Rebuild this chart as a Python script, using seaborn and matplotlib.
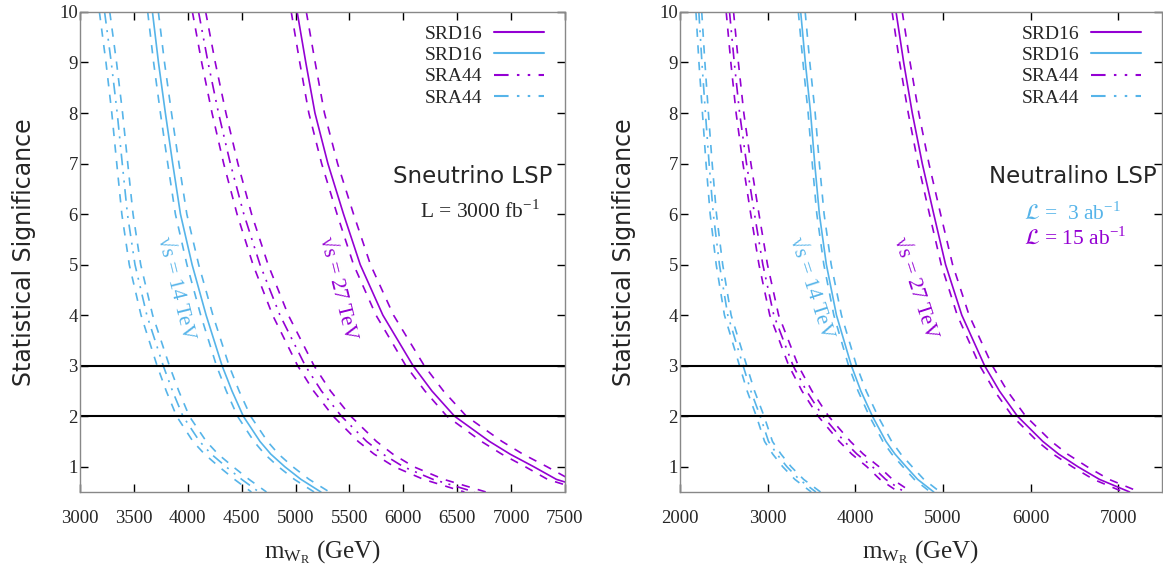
import matplotlib
matplotlib.use("Agg")
import matplotlib.pyplot as plt
from matplotlib.lines import Line2D
import seaborn as sns

sig = [10, 9, 8, 7, 6, 5, 4, 3, 2.5, 2, 1.5, 1.25, 1, 0.75, 0.5]

# --- Sneutrino LSP, L = 3000 fb^-1 (m_WR in GeV) ---
sn_srd16_27 = [5015, 5095, 5180, 5300, 5445, 5600, 5810, 6090, 6265, 6475, 6800, 6990, 7210, 7420, 7800]
sn_srd16_27_lo = [4960, 5039, 5123, 5242, 5385, 5538, 5746, 6023, 6200, 6404, 6725, 6913, 7131, 7338, 7714]
sn_srd16_27_hi = [5100, 5182, 5268, 5390, 5538, 5695, 5909, 6194, 6372, 6585, 6916, 7109, 7333, 7546, 7933]

sn_sra44_27 = [4100, 4188, 4285, 4395, 4520, 4670, 4855, 5090, 5240, 5425, 5660, 5810, 6000, 6275, 6660]
sn_sra44_27_lo = [4043, 4129, 4225, 4333, 4457, 4605, 4787, 5019, 5167, 5349, 5581, 5729, 5916, 6187, 6567]
sn_sra44_27_hi = [4166, 4255, 4354, 4465, 4592, 4745, 4933, 5171, 5324, 5512, 5751, 5903, 6096, 6375, 6767]

sn_srd16_14 = [3672, 3728, 3792, 3860, 3932, 4040, 4170, 4318, 4410, 4515, 4670, 4770, 4900, 5050, 5235]
sn_srd16_14_lo = [3628, 3683, 3746, 3814, 3885, 3992, 4120, 4266, 4357, 4461, 4614, 4713, 4841, 4989, 5172]
sn_srd16_14_hi = [3727, 3784, 3849, 3918, 3991, 4101, 4233, 4383, 4476, 4583, 4740, 4842, 4974, 5126, 5314]

sn_sra44_14 = [3228, 3290, 3345, 3392, 3440, 3510, 3620, 3772, 3858, 3955, 4110, 4218, 4355, 4500, 4660]
sn_sra44_14_lo = [3180, 3241, 3295, 3341, 3388, 3457, 3566, 3715, 3800, 3896, 4048, 4155, 4290, 4433, 4590]
sn_sra44_14_hi = [3276, 3339, 3395, 3443, 3492, 3563, 3674, 3829, 3916, 4014, 4172, 4281, 4420, 4568, 4730]

# --- Neutralino LSP, L = 3 ab^-1 (14 TeV) / 15 ab^-1 (27 TeV) ---
ne_srd16_27 = [4465, 4552, 4650, 4764, 4895, 5030, 5215, 5475, 5644, 5850, 6140, 6320, 6540, 6785, 7130]
ne_srd16_27_lo = [4420, 4506, 4604, 4716, 4846, 4980, 5163, 5420, 5588, 5792, 6079, 6257, 6475, 6717, 7059]
ne_srd16_27_hi = [4536, 4625, 4724, 4840, 4973, 5110, 5298, 5563, 5734, 5944, 6238, 6421, 6645, 6894, 7244]

ne_sra44_27 = [2565, 2619, 2680, 2759, 2850, 2945, 3070, 3290, 3443, 3630, 3875, 4019, 4195, 4346, 4560]
ne_sra44_27_lo = [2527, 2580, 2640, 2718, 2807, 2901, 3024, 3241, 3391, 3576, 3817, 3959, 4132, 4281, 4492]
ne_sra44_27_hi = [2611, 2666, 2728, 2809, 2901, 2998, 3125, 3349, 3505, 3695, 3945, 4091, 4271, 4424, 4642]

ne_srd16_14 = [3377, 3430, 3490, 3537, 3590, 3670, 3785, 3955, 4063, 4195, 4350, 4453, 4580, 4711, 4895]
ne_srd16_14_lo = [3350, 3403, 3462, 3509, 3561, 3641, 3755, 3923, 4031, 4161, 4315, 4417, 4543, 4673, 4856]
ne_srd16_14_hi = [3428, 3481, 3542, 3590, 3644, 3725, 3842, 4014, 4124, 4258, 4415, 4520, 4649, 4782, 4968]

ne_sra44_14 = [2215, 2250, 2290, 2332, 2380, 2450, 2545, 2720, 2808, 2915, 3010, 3105, 3220, 3360, 3550]
ne_sra44_14_lo = [2182, 2216, 2256, 2297, 2344, 2413, 2507, 2679, 2766, 2871, 2965, 3058, 3172, 3310, 3497]
ne_sra44_14_hi = [2248, 2284, 2324, 2367, 2416, 2487, 2583, 2761, 2850, 2959, 3055, 3152, 3268, 3410, 3603]

left_xticks = [3000, 3500, 4000, 4500, 5000, 5500, 6000, 6500, 7000, 7500]
right_xticks = [2000, 3000, 4000, 5000, 6000, 7000]
yticks = [1, 2, 3, 4, 5, 6, 7, 8, 9, 10]

PURPLE = "#9400d3"
CYAN = "#56b4e9"
SERIF = ["Liberation Serif", "DejaVu Serif"]
SOLID = "-"
DASHDOTDOT = (0, (7, 4, 1.2, 4, 1.2, 4))
DASHED = (0, (5, 5))

sns.set_theme(style="ticks")
plt.rcParams["font.family"] = ["DejaVu Sans"]
plt.rcParams["mathtext.fontset"] = "stix"


def draw_curve(ax, center, lo, hi, color, ls):
    for band in (lo, hi):
        sns.lineplot(x=band, y=sig, ax=ax, sort=False, estimator=None,
                     color=color, lw=1.2, linestyle=DASHED)
    sns.lineplot(x=center, y=sig, ax=ax, sort=False, estimator=None,
                 color=color, lw=1.2, linestyle=ls)


def style_axes(ax, xlim, xticks):
    ax.axhline(3, color="black", lw=1.5)
    ax.axhline(2, color="black", lw=1.5)
    ax.set_xlim(*xlim)
    ax.set_ylim(0.5, 10)
    ax.set_xticks(xticks)
    ax.set_yticks(yticks)
    ax.tick_params(direction="in", top=True, right=True, length=6, width=1,
                   color="black", labelsize=13.5, labelfontfamily=SERIF[0])
    ax.tick_params(axis="x", pad=13)
    ax.tick_params(axis="y", pad=1.5)
    for sp in ax.spines.values():
        sp.set_color("#888888")
        sp.set_linewidth(1)
    ax.set_xlabel(r"m$_{\mathregular{W_R}}$ (GeV)", fontfamily=SERIF, fontsize=18, labelpad=8)
    ax.set_ylabel("Statistical Significance", fontsize=17, labelpad=17)
    handles = [Line2D([], [], color=PURPLE, lw=1.5, ls=SOLID),
               Line2D([], [], color=CYAN, lw=1.5, ls=SOLID),
               Line2D([], [], color=PURPLE, lw=1.5, ls=DASHDOTDOT),
               Line2D([], [], color=CYAN, lw=1.5, ls=DASHDOTDOT)]
    ax.legend(handles, ["SRD16", "SRD16", "SRA44", "SRA44"], loc="upper right",
              frameon=False, markerfirst=False, handlelength=2.6, handletextpad=0.6,
              labelspacing=0.18, borderaxespad=0.3,
              prop={"family": SERIF, "size": 14}, bbox_to_anchor=(0.985, 1.0))


fig = plt.figure(figsize=(11.63, 5.67), dpi=100)
ax1 = fig.add_axes([0.0688, 0.1323, 0.417, 0.8466])
ax2 = fig.add_axes([0.5847, 0.1323, 0.4145, 0.8466])

draw_curve(ax1, sn_srd16_27, sn_srd16_27_lo, sn_srd16_27_hi, PURPLE, SOLID)
draw_curve(ax1, sn_srd16_14, sn_srd16_14_lo, sn_srd16_14_hi, CYAN, SOLID)
draw_curve(ax1, sn_sra44_27, sn_sra44_27_lo, sn_sra44_27_hi, PURPLE, DASHDOTDOT)
draw_curve(ax1, sn_sra44_14, sn_sra44_14_lo, sn_sra44_14_hi, CYAN, DASHDOTDOT)
style_axes(ax1, (3000, 7500), left_xticks)

draw_curve(ax2, ne_srd16_27, ne_srd16_27_lo, ne_srd16_27_hi, PURPLE, SOLID)
draw_curve(ax2, ne_srd16_14, ne_srd16_14_lo, ne_srd16_14_hi, CYAN, SOLID)
draw_curve(ax2, ne_sra44_27, ne_sra44_27_lo, ne_sra44_27_hi, PURPLE, DASHDOTDOT)
draw_curve(ax2, ne_sra44_14, ne_sra44_14_lo, ne_sra44_14_hi, CYAN, DASHDOTDOT)
style_axes(ax2, (2000, 7500), right_xticks)

# energy labels along the curves
ax1.text(3880, 4.53, "√s = 14 TeV", color=CYAN, rotation=-76, fontfamily=SERIF,
         fontsize=15.5, ha="center", va="center", rotation_mode="anchor")
ax1.text(5385, 4.53, "√s = 27 TeV", color=PURPLE, rotation=-76, fontfamily=SERIF,
         fontsize=15.5, ha="center", va="center", rotation_mode="anchor")
ax2.text(3493, 4.53, "√s = 14 TeV", color=CYAN, rotation=-72, fontfamily=SERIF,
         fontsize=15.5, ha="center", va="center", rotation_mode="anchor")
ax2.text(4683, 4.53, "√s = 27 TeV", color=PURPLE, rotation=-72, fontfamily=SERIF,
         fontsize=15.5, ha="center", va="center", rotation_mode="anchor")

ax1.text(0.973, 0.658, "Sneutrino LSP", transform=ax1.transAxes, fontsize=16.5,
         ha="right", va="center")
ax1.text(0.949, 0.583, r"L = 3000 fb$^{\mathregular{-1}}$", transform=ax1.transAxes,
         fontfamily=SERIF, fontsize=15.5, ha="right", va="center")
ax2.text(0.988, 0.658, "Neutralino LSP", transform=ax2.transAxes, fontsize=16.5,
         ha="right", va="center")
ax2.text(0.714, 0.581, r"$\mathcal{L}$ =  3 ab$^{\mathregular{-1}}$", transform=ax2.transAxes,
         color=CYAN, fontfamily=SERIF, fontsize=15.5, ha="left", va="center")
ax2.text(0.714, 0.529, r"$\mathcal{L}$ = 15 ab$^{\mathregular{-1}}$", transform=ax2.transAxes,
         color=PURPLE, fontfamily=SERIF, fontsize=15.5, ha="left", va="center")

fig.savefig("out.png", dpi=100)
